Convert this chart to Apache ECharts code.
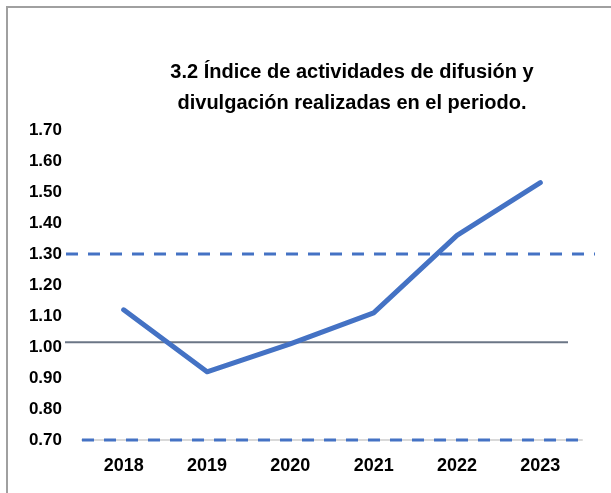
<!DOCTYPE html>
<html>
<head>
<meta charset="utf-8">
<script src="https://cdn.jsdelivr.net/npm/echarts@6/dist/echarts.min.js"></script>
<style>
  html, body { margin: 0; padding: 0; background: #fff; }
  #grafico { width: 611px; height: 493px; }
</style>
</head>
<body>
<div id="grafico"></div>
<script>
var anios = ['2018', '2019', '2020', '2021', '2022', '2023'];
var indice = [1.12, 0.92, 1.01, 1.11, 1.36, 1.53];
var limiteSuperior = 1.30;
var limiteInferior = 0.70;
var lineaBase = 1.015;
var ejeY = { min: 0.70, max: 1.70, paso: 0.10 };

function drawGrafico () {
  var chartDom = document.getElementById('grafico');
  var myChart = echarts.init(chartDom);
  var fuente = '"Liberation Sans", Arial, sans-serif';
  var azul = '#4472C4';

  // ejes ocultos para las lineas de referencia (van mas alla del area de datos)
  function ejeOculto (i) {
    return { type: 'value', gridIndex: i, min: 0, max: 1, show: false };
  }
  function ejeYOculto (i) {
    return { type: 'value', gridIndex: i, min: ejeY.min, max: ejeY.max, show: false };
  }
  function referencia (i, valor, estilo) {
    return {
      type: 'line', xAxisIndex: i, yAxisIndex: i, symbol: 'none', clip: false,
      silent: true, z: 3,
      data: [[0, valor], [1, valor]],
      lineStyle: estilo
    };
  }

  var option = {
    animation: false,
    title: {
      text: '3.2 Índice de actividades de difusión y\ndivulgación realizadas en el periodo.',
      left: 347,
      top: 52,
      textAlign: 'center',
      textStyle: { fontFamily: fuente, fontSize: 20, fontWeight: 'bold', color: '#000', lineHeight: 31 }
    },
    graphic: [{
      type: 'polyline', z: -1,
      shape: { points: [[7, 520], [7, 7], [640, 7]] },
      style: { fill: null, stroke: '#a0a0a0', lineWidth: 2 }
    }],
    grid: [
      { left: 82, right: 29, top: 130, bottom: 53 },
      { left: 66, right: 16, top: 130, bottom: 53 },
      { left: 65, right: 43, top: 130, bottom: 53 },
      { left: 82, right: 28, top: 130, bottom: 53 }
    ],
    xAxis: [
      {
        type: 'category', gridIndex: 0, data: anios, boundaryGap: true,
        axisLine: { lineStyle: { color: '#d9d9d9', width: 2 } },
        axisTick: { show: false },
        axisLabel: { margin: 17, color: '#000', fontFamily: fuente, fontSize: 18, fontWeight: 'bold' }
      },
      ejeOculto(1), ejeOculto(2), ejeOculto(3)
    ],
    yAxis: [
      {
        type: 'value', gridIndex: 0, min: ejeY.min, max: ejeY.max, interval: ejeY.paso,
        axisLine: { show: false }, axisTick: { show: false }, splitLine: { show: false },
        axisLabel: {
          margin: 20, color: '#000', fontFamily: fuente, fontSize: 17, fontWeight: 'bold',
          formatter: function (v) { return v.toFixed(2); }
        }
      },
      ejeYOculto(1), ejeYOculto(2), ejeYOculto(3)
    ],
    series: [
      referencia(1, limiteSuperior, { color: azul, width: 3, type: [12, 10] }),
      referencia(2, lineaBase, { color: '#6b7686', width: 2 }),
      referencia(3, limiteInferior, { color: azul, width: 3, type: [12, 10] }),
      {
        name: 'Índice',
        type: 'line',
        xAxisIndex: 0, yAxisIndex: 0,
        data: indice,
        symbol: 'none',
        z: 5,
        lineStyle: { color: azul, width: 5, cap: 'round', join: 'round' }
      }
    ]
  };

  option && myChart.setOption(option);
}

drawGrafico();
</script>
</body>
</html>
